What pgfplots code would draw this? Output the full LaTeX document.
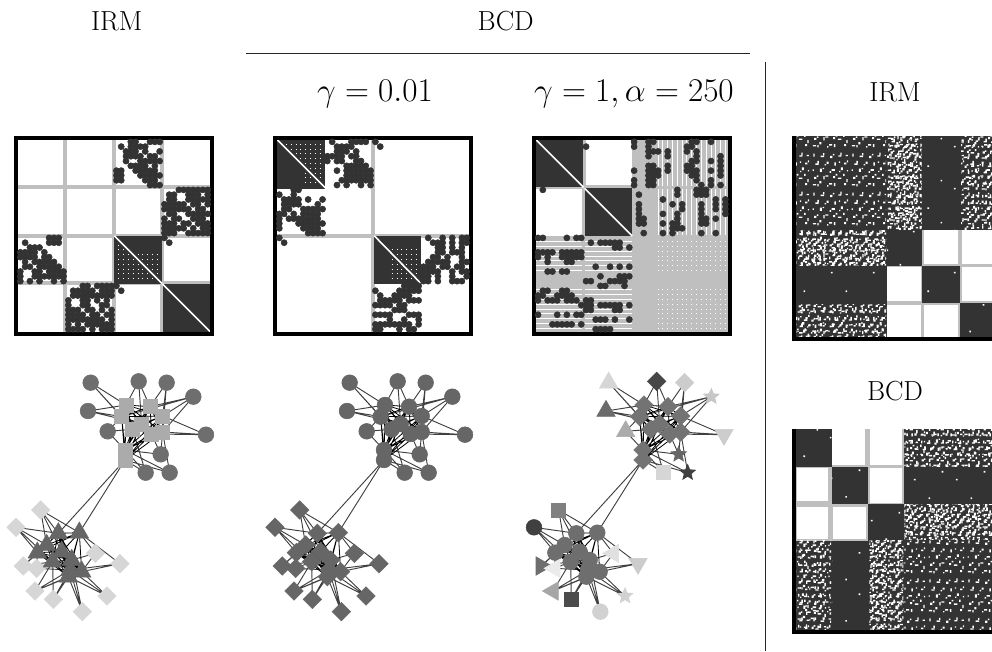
\documentclass[border=0pt]{standalone}
\usepackage{pgfplots}
\usepackage{pgfplotstable}
\pgfplotsset{compat=1.18}
\usetikzlibrary{patterns,plotmarks}

% 1 reference pixel = 0.75pt, page is 992x651 px
\newcommand{\pix}[2]{({#1*0.75pt},{488.25pt-#2*0.75pt})}
\definecolor{dk}{gray}{0.2}
\definecolor{gl}{gray}{0.75}

\pgfplotsset{
  atpx/.style 2 args={at={({#1*0.75pt},{488.25pt-#2*0.75pt})}},
  panel/.style={hide axis,scale only axis,clip=false,y dir=reverse,anchor=north west,unbounded coords=jump},
  matrixpanel/.style={panel,xmin=-0.9,xmax=39.9,ymin=-0.9,ymax=39.9,width=147pt,height=147pt},
  graphpanel/.style={panel,xmin=0,xmax=720,ymin=0,ymax=810,width=180pt,height=202.5pt},
  frame/.style={black,line width=3pt},
  gridline/.style={gl,line width=3pt},
  diag/.style={white,line width=1.2pt},
  whitedots/.style={white,line width=0.7pt,dash pattern=on 0.7pt off 2.9pt},
  dots/.style={only marks,mark=*,mark size=2.3pt,color=dk,mark options={fill=dk,draw=none}},
  edge/.style={black!75,line width=0.7pt},
  hubedge/.style={black,line width=0.6pt},
  nd/.style={only marks,mark size=5.9pt,color=#1,mark options={fill=#1,draw=none}},
  circ/.style={nd=#1,mark=*},
  squ/.style={nd=#1,mark=square*,mark size=5.3pt},
  dia/.style={nd=#1,mark=square*,mark size=4.9pt,mark options={fill=#1,draw=none,rotate=45}},
  tri/.style={nd=#1,mark=triangle*,mark size=8pt},
  trd/.style={nd=#1,mark=triangle*,mark size=8pt,mark options={fill=#1,draw=none,rotate=180}},
  trl/.style={nd=#1,mark=triangle*,mark size=8pt,mark options={fill=#1,draw=none,rotate=90}},
  trr/.style={nd=#1,mark=triangle*,mark size=8pt,mark options={fill=#1,draw=none,rotate=-90}},
  str/.style={nd=#1,mark=fstar,mark size=6.8pt},
}

\pgfdeclareplotmark{fstar}{%
  \pgfpathmoveto{\pgfpointpolar{90}{\pgfplotmarksize}}%
  \pgfpathlineto{\pgfpointpolar{126}{0.45\pgfplotmarksize}}%
  \pgfpathlineto{\pgfpointpolar{162}{\pgfplotmarksize}}%
  \pgfpathlineto{\pgfpointpolar{198}{0.45\pgfplotmarksize}}%
  \pgfpathlineto{\pgfpointpolar{234}{\pgfplotmarksize}}%
  \pgfpathlineto{\pgfpointpolar{270}{0.45\pgfplotmarksize}}%
  \pgfpathlineto{\pgfpointpolar{306}{\pgfplotmarksize}}%
  \pgfpathlineto{\pgfpointpolar{342}{0.45\pgfplotmarksize}}%
  \pgfpathlineto{\pgfpointpolar{18}{\pgfplotmarksize}}%
  \pgfpathlineto{\pgfpointpolar{54}{0.45\pgfplotmarksize}}%
  \pgfpathclose\pgfusepathqfill}

% speckle texture for the dense noisy blocks (too fine to read point by point)
\newcommand{\sqN}[4]{\pgfpathrectangle{\pgfpoint{#1pt}{#2pt}}{\pgfpoint{#3pt}{#4pt}}}
\newcommand{\sqS}[4]{\pgfpathrectangle{\pgfpoint{#2pt}{#1pt}}{\pgfpoint{#4pt}{#3pt}}}
\newcommand{\sqK}[4]{\pgfpathrectangle{\pgfpoint{1.25*#1pt}{1.25*#2pt}}{\pgfpoint{#3pt}{#4pt}}}
\newcommand{\speckles}{%
\sq{0.5}{1.0}{2.4}{1.0}\sq{3.2}{0.4}{1.0}{1.6}\sq{4.4}{2.2}{1.6}{1.6}\sq{9.0}{0.3}{1.0}{1.0}\sq{10.2}{1.4}{2.4}{1.2}%
\sq{13.1}{0.6}{1.2}{2.2}\sq{19.2}{1.1}{1.6}{1.6}\sq{20.6}{2.9}{1.0}{2.4}\sq{1.3}{4.9}{1.6}{1.6}\sq{2.9}{6.1}{1.2}{1.2}%
\sq{6.8}{4.6}{1.0}{2.4}\sq{8.0}{6.2}{2.2}{1.0}\sq{12.6}{5.3}{1.6}{1.6}\sq{14.2}{6.9}{1.2}{1.2}\sq{15.5}{4.9}{2.6}{1.0}%
\sq{18.6}{6.7}{1.2}{1.6}\sq{0.3}{9.8}{1.0}{1.0}\sq{4.7}{9.2}{1.6}{2.4}\sq{6.3}{10.8}{1.2}{1.0}\sq{10.5}{8.6}{1.2}{1.2}%
\sq{11.7}{9.8}{2.6}{1.2}\sq{16.2}{9.0}{1.0}{1.0}\sq{17.3}{10.2}{1.6}{2.0}\sq{20.9}{9.4}{1.0}{1.0}\sq{2.0}{13.4}{2.4}{1.0}%
\sq{3.2}{14.4}{1.2}{1.8}\sq{7.6}{13.0}{1.0}{1.0}\sq{8.7}{14.0}{1.6}{1.6}\sq{13.4}{12.9}{1.2}{2.4}\sq{19.3}{13.7}{1.6}{1.2}%
\sq{20.9}{14.9}{1.0}{1.4}\sq{16.1}{14.6}{1.0}{1.0}\sq{0.8}{18.4}{1.0}{2.2}\sq{5.2}{18.0}{2.6}{1.2}\sq{6.6}{19.2}{1.0}{1.6}%
\sq{10.9}{17.5}{1.6}{1.6}\sq{12.5}{19.1}{1.2}{1.2}\sq{15.8}{18.3}{2.2}{1.0}\sq{17.0}{19.3}{1.0}{1.8}\sq{20.2}{18.6}{1.6}{1.0}}
\pgfdeclarepatternformonly{specA}{\pgfqpoint{0pt}{0pt}}{\pgfqpoint{23pt}{23pt}}{\pgfqpoint{23pt}{23pt}}{\let\sq\sqN\speckles\pgfusepath{fill}}
\pgfdeclarepatternformonly{specB}{\pgfqpoint{0pt}{0pt}}{\pgfqpoint{29pt}{29pt}}{\pgfqpoint{29pt}{29pt}}{\let\sq\sqK\speckles\pgfusepath{fill}}
\pgfdeclarepatternformonly{specC}{\pgfqpoint{0pt}{0pt}}{\pgfqpoint{24pt}{24pt}}{\pgfqpoint{24pt}{24pt}}{\let\sq\sqS\speckles\pgfusepath{fill}}
\pgfdeclarepatternformonly{specD}{\pgfqpoint{0pt}{0pt}}{\pgfqpoint{31pt}{31pt}}{\pgfqpoint{31pt}{31pt}}{%
  \pgfpathrectangle{\pgfqpoint{3pt}{5pt}}{\pgfqpoint{1.2pt}{1.2pt}}\pgfpathrectangle{\pgfqpoint{14pt}{22pt}}{\pgfqpoint{1.2pt}{1.2pt}}%
  \pgfpathrectangle{\pgfqpoint{24pt}{11pt}}{\pgfqpoint{1.2pt}{1.2pt}}\pgfusepath{fill}}

\newcommand{\rct}[5][]{\addplot[draw=none,#1] coordinates {(#2,#3)(#4,#3)(#4,#5)(#2,#5)} --cycle;}
% sparse, mid and light noise on top of a dark block
\newcommand{\sparse}[4]{\rct[pattern=specB,pattern color=white]{#1}{#2}{#3}{#4}}
\newcommand{\rare}[4]{\rct[pattern=specD,pattern color=white]{#1}{#2}{#3}{#4}}
\newcommand{\midn}[4]{\rct[pattern=specA,pattern color=white]{#1}{#2}{#3}{#4}\sparse{#1}{#2}{#3}{#4}}
\newcommand{\lightn}[4]{\midn{#1}{#2}{#3}{#4}\rct[pattern=specC,pattern color=white]{#1}{#2}{#3}{#4}}

% adjacency entries, column and row of the 40 node graph
\pgfplotstableread[row sep=\\]{c r\\
23 0\\24 0\\27 0\\28 0\\29 0\\21 1\\23 1\\24 1\\25 1\\26 1\\22 2\\23 2\\24 2\\26 2\\29 2\\22 3\\23 3\\24 3\\25 3\\27 3\\28 3\\
22 4\\25 4\\26 4\\27 4\\28 4\\29 4\\23 5\\24 5\\25 5\\26 5\\28 5\\20 6\\21 6\\24 6\\25 6\\26 6\\27 6\\28 6\\20 7\\21 7\\25 7\\26 7\\27 7\\28 7\\29 7\\
20 8\\21 8\\26 8\\27 8\\28 8\\27 9\\28 9\\29 9\\
33 10\\34 10\\35 10\\36 10\\37 10\\38 10\\39 10\\31 11\\32 11\\35 11\\36 11\\37 11\\39 11\\31 12\\32 12\\35 12\\36 12\\37 12\\38 12\\39 12\\
30 13\\31 13\\32 13\\33 13\\34 13\\36 13\\37 13\\39 13\\30 14\\31 14\\32 14\\33 14\\34 14\\35 14\\37 14\\38 14\\
31 15\\32 15\\35 15\\36 15\\37 15\\38 15\\39 15\\30 16\\32 16\\33 16\\36 16\\37 16\\38 16\\30 17\\31 17\\32 17\\34 17\\35 17\\37 17\\38 17\\39 17\\
30 18\\31 18\\32 18\\33 18\\34 18\\36 18\\38 18\\39 18\\30 19\\31 19\\32 19\\35 19\\36 19\\37 19\\38 19\\39 19\\
30 20\\31 21\\
}\tblA
\pgfplotstableread[row sep=\\]{c r\\
11 0\\15 0\\16 0\\17 0\\18 0\\12 1\\13 1\\14 1\\15 1\\12 2\\13 2\\14 2\\16 2\\10 3\\11 3\\12 3\\13 3\\15 3\\16 3\\10 4\\12 4\\13 4\\16 4\\17 4\\
14 5\\15 5\\16 5\\17 5\\18 5\\12 6\\14 6\\15 6\\16 6\\17 6\\18 6\\19 6\\14 7\\15 7\\16 7\\17 7\\18 7\\19 7\\
13 8\\14 8\\15 8\\16 8\\17 8\\18 8\\19 8\\12 9\\14 9\\17 9\\19 9\\20 0\\21 1\\
31 20\\34 20\\36 20\\38 20\\39 20\\32 21\\33 21\\34 21\\36 21\\38 21\\39 21\\33 22\\34 22\\36 22\\38 22\\
33 23\\34 23\\36 23\\37 23\\38 23\\32 24\\33 24\\35 24\\38 24\\31 25\\32 25\\33 25\\34 25\\35 25\\38 25\\39 25\\
30 26\\31 26\\32 26\\34 26\\35 26\\37 26\\38 26\\30 27\\31 27\\32 27\\33 27\\36 27\\38 27\\39 27\\
30 28\\31 28\\33 28\\36 28\\39 28\\30 29\\31 29\\33 29\\36 29\\37 29\\38 29\\
}\tblB
\pgfplotstableread[row sep=\\]{c r\\
20 0\\20 1\\20 6\\20 8\\20 9\\21 11\\21 13\\21 14\\21 15\\21 16\\21 17\\22 16\\22 17\\22 19\\
23 0\\23 1\\23 2\\23 3\\23 5\\23 6\\23 7\\23 8\\23 9\\24 0\\24 2\\24 5\\24 6\\24 7\\24 8\\24 9\\25 2\\25 6\\25 7\\
26 12\\26 15\\26 17\\26 19\\27 2\\27 3\\27 5\\27 6\\28 13\\28 17\\28 18\\28 19\\29 10\\29 11\\29 15\\29 16\\29 17\\29 18\\
30 13\\30 14\\30 18\\31 1\\31 2\\31 5\\31 6\\32 0\\32 1\\32 4\\32 5\\32 6\\32 7\\33 0\\33 2\\33 3\\33 4\\33 6\\33 7\\33 8\\33 10\\33 11\\
34 9\\34 10\\34 11\\34 13\\34 14\\34 15\\34 16\\34 17\\34 19\\35 10\\35 11\\35 16\\35 17\\36 0\\36 4\\36 6\\36 8\\36 9\\
37 12\\37 13\\37 14\\37 16\\37 19\\38 3\\38 4\\38 5\\38 6\\38 7\\38 9\\39 12\\39 13\\39 14\\39 15\\10 1\\
}\tblC

% node positions of the drawn graph
\pgfplotstableread[row sep=\\]{x y\\272 68\\416 64\\500 68\\580 110\\264 153\\323 214\\618 224\\482 283\\437 338\\509 338\\}\nodesA
\pgfplotstableread[row sep=\\]{x y\\378 135\\450 140\\488 168\\365 170\\425 192\\398 208\\455 222\\488 216\\375 270\\375 300\\}\nodesH
\pgfplotstableread[row sep=\\]{x y\\122 450\\48 502\\286 580\\360 611\\70 618\\110 625\\105 693\\160 718\\321 708\\247 755\\}\nodesD
\pgfplotstableread[row sep=\\]{x y\\175 520\\238 518\\140 555\\112 578\\185 575\\158 605\\215 600\\210 630\\245 635\\205 650\\}\nodesT
% edges, written as walks through the nodes
\pgfplotstableread[row sep=\\]{x y\\
272 68\\378 135\\416 64\\450 140\\500 68\\488 168\\580 110\\365 170\\272 68\\398 208\\323 214\\365 170\\264 153\\378 135\\264 153\\425 192\\416 64\\450 140\\580 110\\488 216\\500 68\\488 216\\618 224\\488 168\\618 224\\455 222\\482 283\\488 216\\509 338\\375 270\\482 283\\375 270\\323 214\\375 270\\437 338\\398 208\\437 338\\375 300\\509 338\\375 300\\
nan nan\\175 520\\375 300\\238 518\\nan nan\\
185 575\\122 450\\175 520\\48 502\\140 555\\122 450\\238 518\\286 580\\215 600\\247 755\\210 630\\360 611\\238 518\\360 611\\245 635\\286 580\\245 635\\321 708\\205 650\\105 693\\158 605\\48 502\\112 578\\70 618\\140 555\\70 618\\158 605\\110 625\\112 578\\110 625\\210 630\\105 693\\245 635\\105 693\\205 650\\160 718\\158 605\\160 718\\210 630\\321 708\\210 630\\247 755\\205 650\\
}\leafedges
\pgfplotstableread[row sep=\\]{x y\\
378 135\\450 140\\488 168\\365 170\\425 192\\398 208\\455 222\\488 216\\375 270\\375 300\\378 135\\365 170\\455 222\\375 300\\488 168\\398 208\\375 270\\450 140\\425 192\\488 216\\378 135\\488 168\\425 192\\455 222\\375 270\\378 135\\450 140\\365 170\\398 208\\488 216\\375 300\\450 140\\398 208\\375 300\\365 170\\488 216\\450 140\\378 135\\425 192\\375 270\\488 168\\455 222\\378 135\\398 208\\455 222\\450 140\\488 168\\488 216\\375 270\\365 170\\425 192\\375 300\\
nan nan\\
175 520\\238 518\\140 555\\112 578\\185 575\\158 605\\215 600\\210 630\\245 635\\205 650\\175 520\\112 578\\215 600\\205 650\\140 555\\158 605\\245 635\\238 518\\185 575\\210 630\\175 520\\140 555\\185 575\\215 600\\245 635\\175 520\\238 518\\112 578\\158 605\\210 630\\205 650\\238 518\\158 605\\205 650\\112 578\\210 630\\238 518\\175 520\\185 575\\245 635\\140 555\\215 600\\175 520\\158 605\\215 600\\238 518\\140 555\\210 630\\245 635\\112 578\\185 575\\205 650\\
}\hubedges

\begin{document}
\begin{tikzpicture}
\useasboundingbox (0,0) rectangle (744pt,488.25pt);

% headings and rules
\node[anchor=base] at \pix{116.7}{31} {\fontsize{20.7}{24}\selectfont IRM};
\node[anchor=base] at \pix{505.7}{31} {\fontsize{20.7}{24}\selectfont BCD};
\node[anchor=base] at \pix{375}{101.7} {\fontsize{24.88}{30}\selectfont $\gamma=0.01$};
\node[anchor=base] at \pix{634}{101.7} {\fontsize{24.88}{30}\selectfont $\gamma=1,\alpha=250$};
\node[anchor=base] at \pix{895}{101.7} {\fontsize{20.7}{24}\selectfont IRM};
\node[anchor=base] at \pix{895}{400} {\fontsize{20.7}{24}\selectfont BCD};
\draw[black!85,line width=0.75pt] \pix{246}{53.3} -- \pix{750}{53.3};
\draw[black!85,line width=0.75pt] \pix{765.7}{62} -- \pix{765.7}{651};

% IRM matrix
\begin{axis}[matrixpanel,atpx={16}{137.5}]
  \addplot[gridline] coordinates {(9.4,-.5)(9.4,39.5)(nan,nan)(19.5,-.5)(19.5,39.5)(nan,nan)(29.5,-.5)(29.5,39.5)(nan,nan)(-.5,9.5)(39.5,9.5)(nan,nan)(-.5,19.5)(39.5,19.5)(nan,nan)(-.5,29.4)(39.5,29.4)};
  \rct[fill=dk]{19.6}{19.6}{29.5}{29.5}
  \rct[fill=dk]{29.6}{29.6}{39.5}{39.5}
  \addplot[diag] coordinates {(19.6,19.6)(29.5,29.5)(nan,nan)(29.6,29.6)(39.5,39.5)};
  \addplot[whitedots] coordinates {(20.4,20.5)(21,20.5)(nan,nan)(20.4,21.5)(22,21.5)(nan,nan)(20.4,22.5)(23,22.5)(nan,nan)(20.4,23.5)(29.2,23.5)(nan,nan)(20.4,24.5)(29.2,24.5)(nan,nan)(20.4,25.5)(29.2,25.5)(nan,nan)(20.4,26.5)(29.2,26.5)(nan,nan)(20.4,27.5)(29.2,27.5)(nan,nan)(20.4,28.5)(29.2,28.5)};
  \addplot[dots] table[x=c,y=r] {\tblA};
  \addplot[dots] table[x=r,y=c] {\tblA};
  \addplot[frame] coordinates {(-.9,-.9)(39.9,-.9)(39.9,39.9)(-.9,39.9)} --cycle;
\end{axis}

% BCD matrix, gamma = 0.01
\begin{axis}[matrixpanel,atpx={275}{137.5}]
  \addplot[gridline] coordinates {(19.4,-.5)(19.4,39.5)(nan,nan)(-.5,19.5)(39.5,19.5)};
  \rct[fill=dk]{-.5}{-.5}{9.5}{9.8}
  \rct[fill=dk]{19.8}{19.6}{29.5}{29.5}
  \addplot[diag] coordinates {(-.5,-.5)(9.6,9.6)(nan,nan)(19.8,19.6)(29.6,29.6)};
  \addplot[whitedots] coordinates {(1.4,.5)(9.2,.5)(nan,nan)(2.4,1.5)(9.2,1.5)(nan,nan)(3.4,2.5)(9.2,2.5)(nan,nan)(4.4,3.5)(9.2,3.5)(nan,nan)(5.4,4.5)(9.2,4.5)(nan,nan)(5.4,5.5)(9.2,5.5)(nan,nan)(5.4,6.5)(9.2,6.5)(nan,nan)(5.4,7.5)(9.2,7.5)(nan,nan)(5.4,8.5)(9.2,8.5)
   (nan,nan)(23.4,22.5)(29.2,22.5)(nan,nan)(23.4,23.5)(29.2,23.5)(nan,nan)(23.4,24.5)(29.2,24.5)(nan,nan)(23.4,25.5)(29.2,25.5)(nan,nan)(23.4,26.5)(29.2,26.5)(nan,nan)(23.4,27.5)(29.2,27.5)(nan,nan)(23.4,28.5)(29.2,28.5)};
  \addplot[dots] table[x=c,y=r] {\tblB};
  \addplot[dots] table[x=r,y=c] {\tblB};
  \addplot[frame] coordinates {(-.9,-.9)(39.9,-.9)(39.9,39.9)(-.9,39.9)} --cycle;
\end{axis}

% BCD matrix, gamma = 1, alpha = 250
\begin{axis}[matrixpanel,atpx={533.7}{137.5}]
  \rct[fill=gl]{19.5}{-.5}{39.5}{39.5}
  \rct[fill=gl]{-.5}{19.5}{19.5}{39.5}
  \addplot[gridline] coordinates {(9.5,-.5)(9.5,19.5)(nan,nan)(-.5,9.5)(19.5,9.5)};
  \rct[fill=dk]{-.5}{-.5}{9.4}{9.4}
  \rct[fill=dk]{9.7}{9.7}{19.6}{19.6}
  \addplot[white,line width=0.7pt,dash pattern=on 34.9pt off 2.2pt] coordinates {(25,-.5)(25,19.5)(nan,nan)(26,-.5)(26,19.5)(nan,nan)(27,-.5)(27,19.5)(nan,nan)(28,-.5)(28,19.5)(nan,nan)(29,-.5)(29,19.5)(nan,nan)(30,-.5)(30,19.5)(nan,nan)(31,-.5)(31,19.5)(nan,nan)(32,-.5)(32,19.5)(nan,nan)(33,-.5)(33,19.5)(nan,nan)(34,-.5)(34,19.5)(nan,nan)(35,-.5)(35,19.5)(nan,nan)(36,-.5)(36,19.5)(nan,nan)(37,-.5)(37,19.5)(nan,nan)(38,-.5)(38,19.5)(nan,nan)(39,-.5)(39,19.5)};
  \addplot[white,line width=0.7pt,dash pattern=on 34.9pt off 2.2pt] coordinates {(-.5,20.8)(19.5,20.8)(nan,nan)(-.5,21.8)(19.5,21.8)(nan,nan)(-.5,22.8)(19.5,22.8)(nan,nan)(-.5,23.8)(19.5,23.8)(nan,nan)(-.5,24.8)(19.5,24.8)(nan,nan)(-.5,25.8)(19.5,25.8)(nan,nan)(-.5,26.8)(19.5,26.8)(nan,nan)(-.5,30.8)(19.5,30.8)(nan,nan)(-.5,31.8)(19.5,31.8)(nan,nan)(-.5,32.8)(19.5,32.8)(nan,nan)(-.5,33.8)(19.5,33.8)(nan,nan)(-.5,34.8)(19.5,34.8)(nan,nan)(-.5,35.8)(19.5,35.8)(nan,nan)(-.5,36.8)(19.5,36.8)(nan,nan)(-.5,37.8)(19.5,37.8)(nan,nan)(-.5,38.8)(19.5,38.8)};
  \addplot[whitedots] coordinates {(24.9,20.8)(39.3,20.8)(nan,nan)(24.9,21.8)(39.3,21.8)(nan,nan)(24.9,22.8)(39.3,22.8)(nan,nan)(24.9,23.8)(39.3,23.8)(nan,nan)(24.9,24.8)(39.3,24.8)(nan,nan)(24.9,25.8)(39.3,25.8)(nan,nan)(24.9,26.8)(39.3,26.8)(nan,nan)(24.9,30.8)(39.3,30.8)(nan,nan)(24.9,31.8)(39.3,31.8)(nan,nan)(24.9,32.8)(39.3,32.8)(nan,nan)(24.9,33.8)(39.3,33.8)(nan,nan)(24.9,34.8)(39.3,34.8)(nan,nan)(24.9,35.8)(39.3,35.8)(nan,nan)(24.9,36.8)(39.3,36.8)(nan,nan)(24.9,37.8)(39.3,37.8)(nan,nan)(24.9,38.8)(39.3,38.8)};
  \addplot[diag] coordinates {(-.5,-.5)(9.5,9.5)(nan,nan)(9.7,9.7)(19.6,19.6)};
  \addplot[dots] table[x=c,y=r] {\tblC};
  \addplot[dots] table[x=r,y=c] {\tblC};
  \addplot[frame] coordinates {(-.9,-.9)(39.9,-.9)(39.9,39.9)(-.9,39.9)} --cycle;
\end{axis}

% graph coloured by the IRM clusters
\begin{axis}[graphpanel,atpx={0}{360}]
  \addplot[edge] table {\leafedges};
  \addplot[hubedge] table {\hubedges};
  \addplot[circ=black!57] table {\nodesA};
  \addplot[squ=black!33] table {\nodesH};
  \addplot[dia=black!16] table {\nodesD};
  \addplot[tri=black!60] table {\nodesT};
\end{axis}

% graph coloured by BCD, gamma = 0.01
\begin{axis}[graphpanel,atpx={259}{360}]
  \addplot[edge] table {\leafedges};
  \addplot[hubedge] table {\hubedges};
  \addplot[circ=black!60] table {\nodesA};
  \addplot[circ=black!60] table {\nodesH};
  \addplot[dia=black!60] table {\nodesD};
  \addplot[dia=black!60] table {\nodesT};
\end{axis}

% graph coloured by BCD, gamma = 1, alpha = 250
\begin{axis}[graphpanel,atpx={518}{360}]
  \addplot[edge] table {\leafedges};
  \addplot[hubedge] table {\hubedges};
  \addplot[dia=black!55] table {\nodesH};
  \addplot[circ=black!57] table {\nodesT};
  \addplot[tri=black!16] coordinates {(272,68)};
  \addplot[dia=black!72] coordinates {(416,64)};
  \addplot[dia=black!20] coordinates {(500,68)};
  \addplot[str=black!22] coordinates {(580,110)};
  \addplot[tri=black!58] coordinates {(264,153)};
  \addplot[tri=black!33] coordinates {(323,214)};
  \addplot[trd=black!20] coordinates {(618,224)};
  \addplot[str=black!60] coordinates {(482,283)};
  \addplot[squ=black!16] coordinates {(437,338)};
  \addplot[str=black!75] coordinates {(509,338)};
  \addplot[squ=black!50] coordinates {(122,450)};
  \addplot[circ=black!75] coordinates {(48,502)};
  \addplot[trl=black!12] coordinates {(286,580)};
  \addplot[trd=black!20] coordinates {(360,611)};
  \addplot[trr=black!57] coordinates {(70,618)};
  \addplot[trl=black!8] coordinates {(110,625)};
  \addplot[trl=black!35] coordinates {(105,693)};
  \addplot[squ=black!70] coordinates {(160,718)};
  \addplot[str=black!18] coordinates {(321,708)};
  \addplot[circ=black!18] coordinates {(247,755)};
\end{axis}

% IRM matrix of the large network
\begin{axis}[panel,atpx={794}{136},xmin=794,xmax=992,ymin=136,ymax=339,width=148.5pt,height=152.25pt]
  \rct[fill=dk]{796}{136}{992}{337}
  \rct[fill=gl]{886.5}{229.6}{992}{337}
  \rct[fill=white]{924}{230.2}{957.5}{263.5} \rct[fill=white]{962}{230.2}{992}{263.5}
  \rct[fill=white]{887.3}{267}{921}{301} \rct[fill=white]{962}{267}{992}{301}
  \rct[fill=white]{887.3}{304.5}{921}{336.7} \rct[fill=white]{924}{304.5}{957.5}{336.7}
  \rct[fill=dk]{886.5}{229.6}{922}{265.5} \rct[fill=dk]{922.3}{265.5}{960}{303.2} \rct[fill=dk]{960.3}{303.2}{992}{337}
  \sparse{796}{136}{886}{229}
  \lightn{887}{136}{921.7}{229}
  \rare{922}{136}{959}{229}
  \midn{961}{136}{992}{229}
  \lightn{796}{230}{886}{265}
  \rare{887}{230}{921.7}{265}
  \rare{796}{266}{886}{303}
  \rare{922.7}{266}{959.3}{302.7}
  \midn{796}{304}{886}{337}
  \rare{961}{304}{992}{337}
  \addplot[frame] coordinates {(794,136)(794,338.7)(992,338.7)};
\end{axis}

% BCD matrix of the large network
\begin{axis}[panel,atpx={794}{429},xmin=794,xmax=992,ymin=429,ymax=634,width=148.5pt,height=153.75pt]
  \rct[fill=dk]{796}{429.3}{992}{630}
  \rct[fill=gl]{796}{429.3}{904}{540.5}
  \rct[fill=white]{832.3}{429.3}{865}{465} \rct[fill=white]{870}{429.3}{902.3}{465}
  \rct[fill=white]{796.7}{468.3}{828.3}{501} \rct[fill=white]{870}{468.3}{902.3}{502.7}
  \rct[fill=white]{796.7}{506.7}{828.3}{539.3} \rct[fill=white]{833.3}{506.7}{866}{539.3}
  \rct[fill=dk]{796}{429.3}{831.5}{467} \rct[fill=dk]{831.5}{467}{868}{503.5} \rct[fill=dk]{868}{503.5}{904}{540.5}
  \rare{796}{429.3}{831.5}{467}
  \rare{831.5}{467}{868}{503.5}
  \rare{868}{503.5}{904}{540.5}
  \midn{904.3}{429.3}{992}{466.7}
  \rare{904.3}{467.7}{992}{503}
  \lightn{904.3}{504.3}{992}{539.3}
  \midn{796.7}{540.7}{831}{630}
  \rare{832.3}{540.7}{867.3}{630}
  \lightn{869.3}{540.7}{903.3}{630}
  \sparse{904.3}{540.7}{992}{630}
  \addplot[frame] coordinates {(794,429.3)(794,631.7)(992,631.7)};
\end{axis}
\end{tikzpicture}
\end{document}
